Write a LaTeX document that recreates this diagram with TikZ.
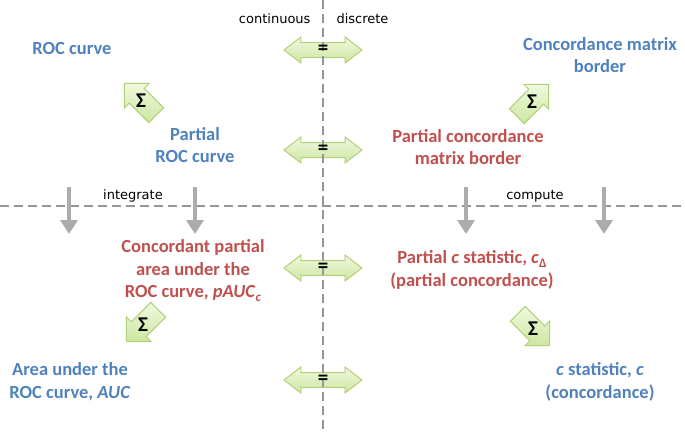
\documentclass[tikz,border=0pt]{standalone}
\usepackage{fontspec}
\setmainfont{Carlito}
\newfontfamily\notefont{DejaVu Sans}
\usepackage{tikz}
\usetikzlibrary{arrows.meta,shapes.arrows}
\definecolor{rocblue}{RGB}{79,129,189}
\definecolor{partred}{RGB}{192,80,77}
\definecolor{axisgray}{RGB}{150,150,150}
\definecolor{stepgray}{RGB}{172,172,172}
\definecolor{greenline}{RGB}{178,208,120}
\definecolor{greentop}{RGB}{240,249,224}
\definecolor{greenbot}{RGB}{205,230,160}
\newcommand{\lowsub}[1]{\raisebox{-4pt}{\fontsize{13}{13}\selectfont #1}}

\begin{document}
\begin{tikzpicture}[x=1pt,y=-1pt]
  \tikzset{
    blue label/.style={text=rocblue, align=center, font=\fontsize{18.5}{22.5}\selectfont\bfseries},
    red label/.style={text=partred, align=center, font=\fontsize{18.5}{22.5}\selectfont\bfseries},
    note/.style={font=\notefont\fontsize{13}{15}\selectfont},
    equal arrow/.style={double arrow, draw=greenline, line width=1pt, top color=greentop, bottom color=greenbot,
      minimum height=78pt, inner xsep=0pt, inner ysep=7pt, double arrow head extend=5.5pt, double arrow tip angle=75},
    sum arrow/.style={single arrow, draw=greenline, line width=1pt, top color=greentop, bottom color=greenbot,
      minimum height=45pt, inner sep=10pt, single arrow head extend=7pt, single arrow tip angle=90},
    sign/.style={font=\fontsize{21}{21}\selectfont\bfseries, inner sep=0pt},
    down arrow/.style={draw=stepgray, line width=4.5pt, -{Triangle[length=14pt,width=17pt]}},
    axis line/.style={draw=axisgray, line width=2pt, dash pattern=on 9pt off 5pt}
  }
  \useasboundingbox (0,0) rectangle (685,432);
  % Equality arrows along the middle
  \node [equal arrow] (eq-roc) at (323,50) {};
  \node [equal arrow] (eq-partial) at (323,150) {};
  \node [equal arrow] (eq-pauc) at (323,268) {};
  \node [equal arrow] (eq-auc) at (323,380) {};
  % Dashed axes
  \draw [axis line] (323,0) -- (323,432);
  \draw [axis line] (0,206) -- (685,206);
  \node [sign] at (eq-roc) {=};
  \node [sign] at (eq-partial) {=};
  \node [sign] at (eq-pauc) {=};
  \node [sign] at (eq-auc) {=};
  % Axis notes
  \node [note, anchor=east] (continuous) at (314,19) {continuous};
  \node [note, anchor=west] (discrete) at (333,19) {discrete};
  \node [note] (integrate) at (133,196) {integrate};
  \node [note] (compute) at (535,196) {compute};
  % Left column nodes
  \node [blue label] (roc) at (72,48) {ROC curve};
  \node [blue label] (partial-roc) at (195,145) {Partial\\ROC curve};
  \node [red label] (pauc) at (193,271) {Concordant partial\\area under the\\ROC curve, \textit{pAUC}\lowsub{\textit{c}}};
  \node [blue label] (auc) at (70,382) {Area under the\\ROC curve, \textit{AUC}};
  % Right column nodes
  \node [blue label] (border) at (600,55) {Concordance matrix\\border};
  \node [red label] (partial-border) at (468,147) {Partial concordance\\matrix border};
  \node [red label] (partial-c) at (472,270) {Partial \textit{c} statistic, \textit{c}\lowsub{Δ}\\(partial concordance)};
  \node [blue label] (c-stat) at (600,382) {\textit{c} statistic, \textit{c}\\(concordance)};
  % Summation arrows
  \node [sum arrow, rotate=135] (sum-roc) at (144,103) {};
  \node [sum arrow, rotate=45] (sum-border) at (529,104) {};
  \node [sum arrow, rotate=225] (sum-auc) at (146,322) {};
  \node [sum arrow, rotate=-45] (sum-c) at (530,326) {};
  \node [sign] at ([shift={(-3,-2)}]sum-roc) {Σ};
  \node [sign] at ([shift={(3,-2)}]sum-border) {Σ};
  \node [sign] at ([shift={(-3,3)}]sum-auc) {Σ};
  \node [sign] at ([shift={(3,3)}]sum-c) {Σ};
  % Integrate / compute steps
  \foreach \x in {69,195,466,604}
    \draw [down arrow] (\x,187) -- (\x,234);
\end{tikzpicture}
\end{document}
